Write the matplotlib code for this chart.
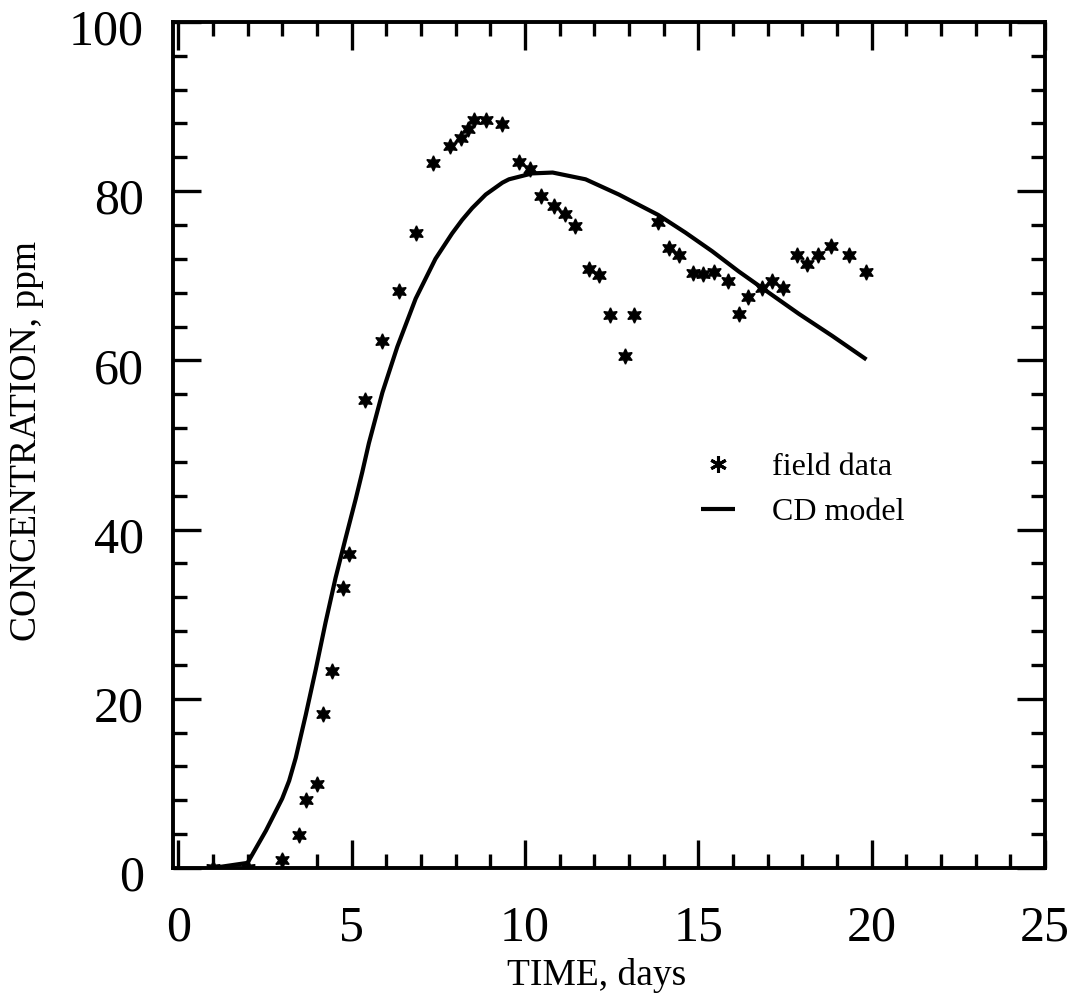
import matplotlib
matplotlib.use("Agg")
import matplotlib.pyplot as plt
from matplotlib.ticker import MultipleLocator
from matplotlib.transforms import ScaledTranslation

plt.rcParams['font.family'] = ['Liberation Serif', 'DejaVu Serif']

# field data (days, ppm)
field_days = [1.0, 2.0, 2.99, 3.49, 3.68, 4.0, 4.18, 4.45, 4.74, 4.93,
              5.39, 5.89, 6.37, 6.85, 7.36, 7.84, 8.16, 8.35, 8.54, 8.87,
              9.35, 9.83, 10.14, 10.45, 10.84, 11.15, 11.44, 11.86, 12.15, 12.44,
              12.88, 13.15, 13.84, 14.15, 14.44, 14.84, 15.15, 15.46, 15.85, 16.17,
              16.44, 16.84, 17.13, 17.44, 17.84, 18.14, 18.44, 18.84, 19.34, 19.85]
field_ppm = [0.0, 0.0, 1.0, 3.9, 8.0, 9.9, 18.2, 23.3, 33.1, 37.1,
             55.3, 62.3, 68.2, 75.1, 83.3, 85.3, 86.3, 87.3, 88.4, 88.4,
             87.9, 83.5, 82.6, 79.4, 78.3, 77.3, 75.9, 70.8, 70.1, 65.4,
             60.5, 65.4, 76.3, 73.3, 72.4, 70.3, 70.2, 70.4, 69.4, 65.5,
             67.5, 68.5, 69.4, 68.5, 72.4, 71.4, 72.5, 73.5, 72.5, 70.4]

# CD model curve
model_days = [1.0, 2.0, 2.53, 3.0, 3.2, 3.39, 3.68, 3.97, 4.25, 4.54,
              4.83, 5.12, 5.31, 5.5, 5.89, 6.32, 6.85, 7.42, 7.9, 8.19,
              8.48, 8.87, 9.35, 9.54, 10.21, 10.8, 11.75, 12.71, 13.84, 14.63,
              15.4, 16.17, 16.93, 17.9, 18.86, 19.85]
model_ppm = [0.0, 0.6, 4.4, 8.2, 10.3, 13.0, 18.1, 23.5, 29.0, 34.3,
             39.0, 43.6, 46.8, 50.2, 56.2, 61.6, 67.3, 72.0, 75.0, 76.6,
             78.0, 79.6, 81.0, 81.4, 82.1, 82.2, 81.4, 79.6, 77.2, 75.1,
             72.9, 70.5, 68.3, 65.5, 62.9, 60.1]

fig = plt.figure(figsize=(10.77, 9.98), dpi=100)
ax = fig.add_axes([0.1606, 0.1303, 0.8097, 0.8477])

ax.plot(model_days, model_ppm, color='black', lw=3.0, label='CD model',
        solid_joinstyle='round', solid_capstyle='butt')
ax.plot(field_days, field_ppm, ls='none', marker=(6, 1, 0), ms=11,
        color='black', label='field data')

ax.set_xlim(-0.15, 25)
ax.set_ylim(0, 100)
ax.xaxis.set_major_locator(MultipleLocator(5))
ax.xaxis.set_minor_locator(MultipleLocator(1))
ax.yaxis.set_major_locator(MultipleLocator(20))
ax.yaxis.set_minor_locator(MultipleLocator(4))

for s in ax.spines.values():
    s.set_linewidth(2.8)
ax.tick_params(which='both', direction='in', top=True, right=True, width=2.4)
ax.tick_params(which='major', length=20, labelsize=36)
ax.tick_params(which='minor', length=10)
ax.tick_params(axis='x', which='major', pad=27)
ax.tick_params(axis='y', which='major', pad=21)

# the y labels sit a little below their ticks in the original
shift = ScaledTranslation(0, -5 / 100, fig.dpi_scale_trans)
for lab in ax.get_yticklabels():
    lab.set_transform(lab.get_transform() + shift)

ax.set_xlabel('TIME, days', fontsize=27)
ax.xaxis.set_label_coords(0.486, -0.106)
ax.set_ylabel('CONCENTRATION, ppm', fontsize=27)
ax.yaxis.set_label_coords(-0.148, 0.505)

handles, labels = ax.get_legend_handles_labels()
leg = ax.legend(handles[::-1], labels[::-1], frameon=False, fontsize=23,
                loc='upper left', bbox_to_anchor=(0.606, 0.491), borderaxespad=0,
                borderpad=0, handlelength=1.05, handletextpad=1.15,
                labelspacing=0.5)
star = leg.legend_handles[0]
star.set_marker((6, 2, 0))
star.set_markersize(12)
star.set_markeredgewidth(2.2)

fig.savefig('out.png', dpi=100)
